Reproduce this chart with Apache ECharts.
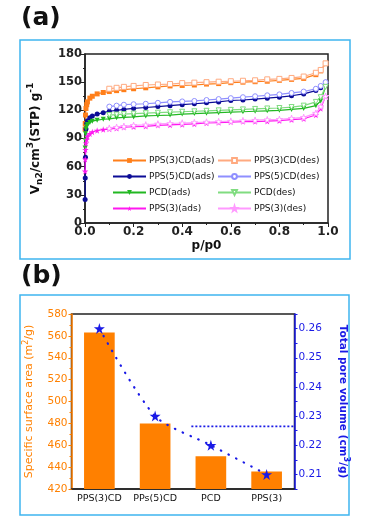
<!DOCTYPE html>
<html><head><meta charset="utf-8">
<script src="https://cdn.jsdelivr.net/npm/echarts@6/dist/echarts.min.js"></script>
<style>html,body{margin:0;padding:0;background:#fff}#c{width:371px;height:528px}</style>
</head><body><div id="c"></div>
<script>
// ---- Panel (a): N2 isotherms ----
const adsP = [0.0005, 0.001, 0.002, 0.004, 0.007, 0.01, 0.02, 0.03, 0.05, 0.075, 0.1, 0.13, 0.16, 0.2, 0.25, 0.3, 0.35, 0.4, 0.45, 0.5, 0.55, 0.6, 0.65, 0.7, 0.75, 0.8, 0.85, 0.9, 0.95, 0.97, 0.99];
const desP = [0.99, 0.97, 0.95, 0.9, 0.85, 0.8, 0.75, 0.7, 0.65, 0.6, 0.55, 0.5, 0.45, 0.4, 0.35, 0.3, 0.25, 0.2, 0.16, 0.13, 0.1];
const pps3cdAds = [100, 106, 115, 122, 126, 129, 133, 135, 137.5, 139, 140, 141, 142, 143, 144, 145, 146, 146.5, 147, 148, 148.5, 149.5, 150, 150.5, 151, 152, 153, 154, 158, 162, 170];
const pps3cdDes = [170, 163, 160, 156, 154.5, 153.5, 153, 152, 151.5, 151, 150.5, 150, 149.5, 149, 148, 147.5, 147, 146, 145, 144, 143];
const pps5cdAds = [25, 48, 70, 100, 106, 109, 112, 114, 116, 117.5, 119, 120, 121, 122, 123, 124, 125, 126, 127, 128, 129, 130.5, 131, 132, 133, 134, 135.5, 137.5, 141, 144, 150];
const pps5cdDes = [150, 146, 143, 140, 138.5, 137, 136, 135, 134, 133, 132, 131, 130, 129.5, 129, 128, 127, 126.5, 126, 125, 124];
const pcdAds = [80, 88, 95, 100, 103, 105, 107, 108.5, 109.5, 110.5, 111, 112, 112.5, 113, 114, 114.5, 115, 116, 116.5, 117, 117.5, 118, 118.5, 119, 119.5, 120, 121, 122, 125, 130, 145];
const pcdDes = [145, 134, 129, 125, 123.5, 122.5, 122, 121.5, 121, 120.5, 120, 119.5, 119, 118.5, 118, 117.5, 117, 116.5, 116, 115.5, 115];
const pps3Ads = [55, 68, 78, 85, 89, 92, 95, 97, 98.5, 99.5, 100, 101, 102, 102.5, 103, 104, 104.5, 105, 105.5, 106.5, 107, 107.5, 108, 108, 108.5, 109, 110, 111, 115, 122, 135];
const pps3Des = [135, 124, 117, 112.5, 111.5, 110.5, 110, 109.5, 109, 108.5, 108, 107.5, 107, 106.5, 106, 105.5, 104.5, 104, 103, 102, 101];

// ---- Panel (b): surface area & pore volume ----
const samples = ['PPS(3)CD', 'PPs(5)CD', 'PCD', 'PPS(3)'];
const surfaceArea = [563, 480, 450, 436];
const poreVolume = [0.26, 0.23, 0.22, 0.21];
const refLineX = [1.65, 3.5];
const refLineY = [0.2265, 0.2265];

const F = 'DejaVu Sans';
const STAR = 'path://M50,0 L61,35 L98,35 L68,57 L79,91 L50,70 L21,91 L32,57 L2,35 L39,35 Z';
const zip = (a, b) => a.map((v, i) => [v, b[i]]);

function iso(name, xs, ys, color, symbol, rot, filled) {
  return {
    name, type: 'line', xAxisIndex: 0, yAxisIndex: 0,
    data: zip(xs, ys), symbol, symbolSize: symbol === STAR ? 6.5 : 5, symbolRotate: rot || 0,
    showAllSymbol: true,
    lineStyle: { color, width: 1.2 },
    itemStyle: filled ? { color } : { color: '#fff', borderColor: color, borderWidth: 1 },
    emphasis: { disabled: true }, animation: false
  };
}

const chart = echarts.init(document.getElementById('c'), null, { renderer: 'canvas' });
const blue = '#1a1ae6';
const orange = '#ff8000';
chart.setOption({
  animation: false,
  textStyle: { fontFamily: F },
  graphic: [
    { type: 'rect', shape: { x: 20, y: 40, width: 330, height: 219 }, style: { fill: 'none', stroke: '#3fb5ef', lineWidth: 1.5 }, z: -1 },
    { type: 'rect', shape: { x: 20, y: 295, width: 329, height: 220 }, style: { fill: 'none', stroke: '#3fb5ef', lineWidth: 1.5 }, z: -1 },
    { type: 'text', left: 21, top: 6, style: { text: '(a)', font: 'bold 25px "DejaVu Sans"', fill: '#111' } },
    { type: 'text', left: 21, top: 264, style: { text: '(b)', font: 'bold 25px "DejaVu Sans"', fill: '#111' } }
  ],
  grid: [
    { left: 85, top: 54, width: 243, height: 169, show: true, borderColor: '#222', borderWidth: 1.5, backgroundColor: 'transparent' },
    { left: 71.5, top: 314, width: 223, height: 175, show: true, borderColor: '#222', borderWidth: 1.5, backgroundColor: 'transparent' }
  ],
  legend: [
    { left: 112, top: 156, padding: 0, orient: 'vertical', itemGap: 7, itemWidth: 33, itemHeight: 6,
      textStyle: { fontFamily: F, fontSize: 9, color: '#111', padding: [0, 0, 0, -2] },
      data: ['PPS(3)CD(ads)', 'PPS(5)CD(ads)', 'PCD(ads)', 'PPS(3)(ads)'] },
    { left: 217, top: 156, padding: 0, orient: 'vertical', itemGap: 7, itemWidth: 33, itemHeight: 6,
      textStyle: { fontFamily: F, fontSize: 9, color: '#111', padding: [0, 0, 0, -2] },
      data: ['PPS(3)CD(des)', 'PPS(5)CD(des)', 'PCD(des)', 'PPS(3)(des)'] }
  ],
  xAxis: [
    { type: 'value', gridIndex: 0, min: 0, max: 1, interval: 0.2,
      name: 'p/p0', nameLocation: 'middle', nameGap: 17,
      nameTextStyle: { fontFamily: F, fontSize: 12, fontWeight: 'bold', color: '#111' },
      axisLine: { onZero: false, lineStyle: { color: '#222', width: 1.5 } },
      axisTick: { length: 4, lineStyle: { color: '#222' } },
      minorTick: { show: true, splitNumber: 2, length: 2, lineStyle: { color: '#222' } },
      axisLabel: { fontFamily: F, fontSize: 12, fontWeight: 'bold', color: '#222', margin: 3, formatter: v => v.toFixed(1) },
      splitLine: { show: false } },
    { type: 'category', gridIndex: 1, data: samples, position: 'bottom',
      axisLine: { onZero: false, lineStyle: { color: '#222', width: 1.5 } },
      axisTick: { alignWithLabel: true, length: 3, lineStyle: { color: '#222' } },
      axisLabel: { fontFamily: F, fontSize: 9.5, color: '#111', margin: 5, interval: 0 } },
    { type: 'value', gridIndex: 1, min: -0.5, max: 3.5, show: false, position: 'top',
      axisLine: { show: false, onZero: false }, axisTick: { show: false }, axisLabel: { show: false } }
  ],
  yAxis: [
    { type: 'value', gridIndex: 0, min: 0, max: 180, interval: 30,
      name: '{t|V}{sub|n2}{t|/cm}{sup|3}{t|(STP) g}{sup|-1}', nameLocation: 'middle', nameGap: 40, nameRotate: 90,
      nameTextStyle: { color: '#111', rich: {
        t: { fontFamily: F, fontSize: 12, fontWeight: 'bold', color: '#111' },
        sub: { fontFamily: F, fontSize: 9, fontWeight: 'bold', color: '#111', padding: [8, 0, 0, 0] },
        sup: { fontFamily: F, fontSize: 9, fontWeight: 'bold', color: '#111', padding: [0, 0, 10, 0] } } },
      axisLine: { show: true, onZero: false, lineStyle: { color: '#222', width: 1.5 } },
      axisTick: { show: true, length: 4, lineStyle: { color: '#222' } },
      minorTick: { show: true, splitNumber: 2, length: 2, lineStyle: { color: '#222' } },
      axisLabel: { fontFamily: F, fontSize: 11.5, fontWeight: 'bold', color: '#222', margin: 3 },
      splitLine: { show: false } },
    { type: 'value', gridIndex: 1, min: 420, max: 580, interval: 20, position: 'left',
      name: '{t|Specific surface area (m}{sup|2}{t|/g)}', nameLocation: 'middle', nameGap: 34, nameRotate: 90,
      nameTextStyle: { color: orange, rich: {
        t: { fontFamily: F, fontSize: 11, color: orange },
        sup: { fontFamily: F, fontSize: 8, color: orange, padding: [0, 0, 8, 0] } } },
      axisLine: { show: true, onZero: false, lineStyle: { color: orange, width: 1.5 } },
      axisTick: { show: true, length: 3, lineStyle: { color: orange } },
      minorTick: { show: true, splitNumber: 2, length: 2, lineStyle: { color: orange } },
      axisLabel: { fontFamily: F, fontSize: 10.5, color: orange, margin: 4 },
      splitLine: { show: false } },
    { type: 'value', gridIndex: 1, min: 0.205, max: 0.265, interval: 0.005, position: 'right',
      name: '{t|Total pore volume (cm}{sup|3}{t|/g)}', nameLocation: 'middle', nameGap: 40, nameRotate: -90,
      nameTextStyle: { color: blue, rich: {
        t: { fontFamily: F, fontSize: 10.5, fontWeight: 'bold', color: blue },
        sup: { fontFamily: F, fontSize: 8, fontWeight: 'bold', color: blue, padding: [0, 0, 8, 0] } } },
      axisLine: { show: true, onZero: false, lineStyle: { color: blue, width: 1.5 } },
      axisTick: { show: true, length: 3, lineStyle: { color: blue } },
      axisLabel: { fontFamily: F, fontSize: 10.5, color: blue, margin: 4,
        formatter: v => (Math.abs(Math.round(v * 1000) % 10) < 1e-6 ? v.toFixed(2) : '') },
      splitLine: { show: false } }
  ],
  series: [
    iso('PPS(3)CD(ads)', adsP, pps3cdAds, '#ff7f1a', 'rect', 0, true),
    iso('PPS(5)CD(ads)', adsP, pps5cdAds, '#0c0c96', 'circle', 0, true),
    iso('PCD(ads)', adsP, pcdAds, '#22b822', 'triangle', 180, true),
    iso('PPS(3)(ads)', adsP, pps3Ads, '#ff18f0', STAR, 0, true),
    iso('PPS(3)CD(des)', desP, pps3cdDes, '#ffaa80', 'rect', 0, false),
    iso('PPS(5)CD(des)', desP, pps5cdDes, '#8f8fff', 'circle', 0, false),
    iso('PCD(des)', desP, pcdDes, '#80dc80', 'triangle', 180, false),
    iso('PPS(3)(des)', desP, pps3Des, '#ff99ff', STAR, 0, false),
    { type: 'bar', xAxisIndex: 1, yAxisIndex: 1, data: surfaceArea, barWidth: '55%',
      itemStyle: { color: orange }, z: 2, emphasis: { disabled: true } },
    { type: 'line', xAxisIndex: 1, yAxisIndex: 2, data: poreVolume, smooth: 0.25,
      symbol: STAR, symbolSize: 11, itemStyle: { color: blue },
      lineStyle: { color: blue, width: 2.2, type: [0.5, 8], cap: 'round' }, z: 3, emphasis: { disabled: true } },
    { type: 'line', xAxisIndex: 2, yAxisIndex: 2, data: zip(refLineX, refLineY), symbol: 'none',
      lineStyle: { color: blue, width: 1.8, type: [2, 2] }, z: 3, emphasis: { disabled: true } }
  ]
});
</script></body></html>
